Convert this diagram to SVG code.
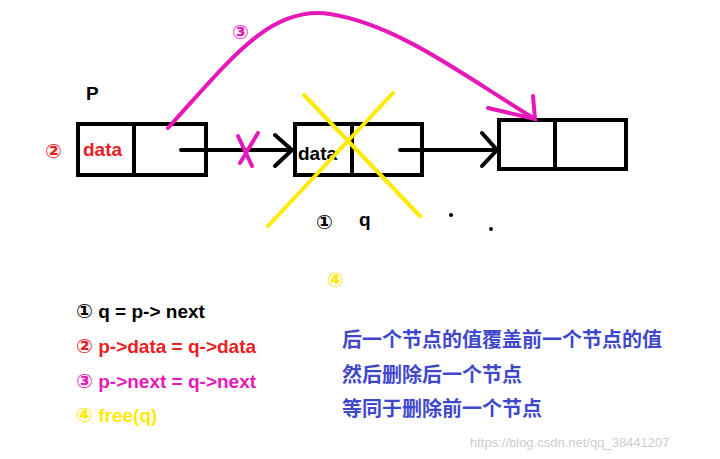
<svg xmlns="http://www.w3.org/2000/svg" width="720" height="459" viewBox="0 0 720 459">
<style>
.box{fill:none;stroke:#000;stroke-width:4}
.ln{fill:none;stroke-width:4;stroke-linecap:round}
.t{font-family:"Liberation Sans",Arial,sans-serif;font-weight:bold;font-size:19px}
.c{font-family:"DejaVu Sans",sans-serif;font-weight:bold;font-size:20px}
</style>
<rect width="720" height="459" fill="#fff"/>
<g id="node1"><rect class="box" x="78" y="124" width="128" height="51"/><line class="box" x1="134" y1="124" x2="134" y2="175"/><text class="t" x="83" y="156" fill="#e8201f">data</text></g>
<g id="node2"><rect class="box" x="295" y="124" width="127" height="51"/><line class="box" x1="352" y1="124" x2="352" y2="175"/><text class="t" x="298" y="160" fill="#000">data</text></g>
<g id="node3"><rect class="box" x="499" y="120" width="127" height="49"/><line class="box" x1="555" y1="120" x2="555" y2="169"/></g>
<g id="connectors">
<path class="ln" stroke="#000" d="M181 150H292M275 135L292 150L275 166"/>
<path class="ln" stroke="#000" d="M400 150H497M482 133L497 150L482 166"/>
<path class="ln" stroke="#e619b8" d="M168 128C230 60 270 5 330 14C400 25 470 80 535 119M488 108L535 119L533 96"/>
<path class="ln" stroke="#e619b8" d="M238 136L252 166M258 133L240 163"/>
<path class="ln" stroke="#ffea00" d="M304 95L420 216M393 93L268 226"/>
</g>
<text class="c" x="232" y="39" fill="#e619b8">③</text>
<text class="t" x="86" y="100" fill="#000">P</text>
<text class="c" x="45" y="158" fill="#e8201f">②</text>
<text class="c" x="316" y="229" fill="#000">①</text>
<text class="t" x="359" y="226" fill="#000">q</text>
<circle cx="451" cy="215" r="2" fill="#000"/><circle cx="491" cy="229" r="2" fill="#000"/>
<text class="c" x="327" y="287" fill="#ffea00">④</text>
<g class="t"><text x="76" y="318" fill="#000"><tspan class="c">①</tspan> q = p-&gt; next</text>
<text x="76" y="353" fill="#e8201f"><tspan class="c">②</tspan> p-&gt;data = q-&gt;data</text>
<text x="76" y="388" fill="#e619b8"><tspan class="c">③</tspan> p-&gt;next = q-&gt;next</text>
<text x="76" y="422" fill="#ffea00"><tspan class="c">④</tspan> free(q)</text></g>
<g font-family="'Noto Sans CJK SC',sans-serif" font-weight="bold" font-size="20" fill="#3f48cc">
<text x="342" y="347">后一个节点的值覆盖前一个节点的值</text>
<text x="342" y="382">然后删除后一个节点</text>
<text x="342" y="416">等同于删除前一个节点</text>
</g>
<text x="470" y="447" font-family="'Liberation Sans',sans-serif" font-size="13" fill="#ccc">https://blog.csdn.net/qq_38441207</text>
</svg>
